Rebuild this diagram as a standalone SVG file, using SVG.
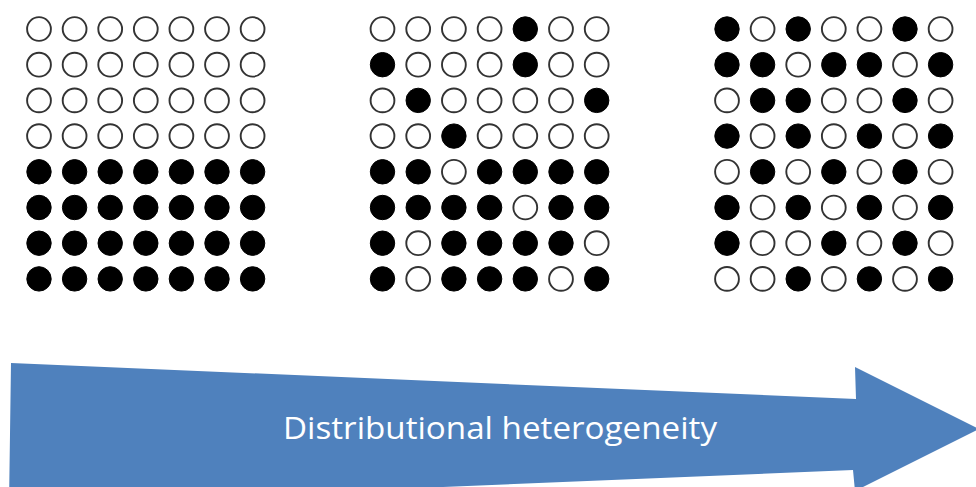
<svg xmlns="http://www.w3.org/2000/svg" xmlns:xlink="http://www.w3.org/1999/xlink" width="976" height="487" viewBox="0 0 976 487">
<style>
.e{fill:#fff;stroke:#333;stroke-width:1.9}
.f{fill:#000;stroke:#000;stroke-width:1}
.lbl{font-family:"Open Sans","Noto Sans",sans-serif;font-size:31px;fill:#fff}
</style>
<defs>
<circle id="o" r="11.9" class="e"/>
<circle id="b" r="12.2" class="f"/>
</defs>
<rect width="976" height="487" fill="#fff"/>
<g id="grid-homogeneous" transform="translate(39,29)">
<use href="#o" x="0" y="0"/><use href="#o" x="35.6" y="0"/><use href="#o" x="71.2" y="0"/><use href="#o" x="106.8" y="0"/><use href="#o" x="142.4" y="0"/><use href="#o" x="178" y="0"/><use href="#o" x="213.6" y="0"/>
<use href="#o" x="0" y="35.7"/><use href="#o" x="35.6" y="35.7"/><use href="#o" x="71.2" y="35.7"/><use href="#o" x="106.8" y="35.7"/><use href="#o" x="142.4" y="35.7"/><use href="#o" x="178" y="35.7"/><use href="#o" x="213.6" y="35.7"/>
<use href="#o" x="0" y="71.4"/><use href="#o" x="35.6" y="71.4"/><use href="#o" x="71.2" y="71.4"/><use href="#o" x="106.8" y="71.4"/><use href="#o" x="142.4" y="71.4"/><use href="#o" x="178" y="71.4"/><use href="#o" x="213.6" y="71.4"/>
<use href="#o" x="0" y="107.1"/><use href="#o" x="35.6" y="107.1"/><use href="#o" x="71.2" y="107.1"/><use href="#o" x="106.8" y="107.1"/><use href="#o" x="142.4" y="107.1"/><use href="#o" x="178" y="107.1"/><use href="#o" x="213.6" y="107.1"/>
<use href="#b" x="0" y="142.8"/><use href="#b" x="35.6" y="142.8"/><use href="#b" x="71.2" y="142.8"/><use href="#b" x="106.8" y="142.8"/><use href="#b" x="142.4" y="142.8"/><use href="#b" x="178" y="142.8"/><use href="#b" x="213.6" y="142.8"/>
<use href="#b" x="0" y="178.5"/><use href="#b" x="35.6" y="178.5"/><use href="#b" x="71.2" y="178.5"/><use href="#b" x="106.8" y="178.5"/><use href="#b" x="142.4" y="178.5"/><use href="#b" x="178" y="178.5"/><use href="#b" x="213.6" y="178.5"/>
<use href="#b" x="0" y="214.2"/><use href="#b" x="35.6" y="214.2"/><use href="#b" x="71.2" y="214.2"/><use href="#b" x="106.8" y="214.2"/><use href="#b" x="142.4" y="214.2"/><use href="#b" x="178" y="214.2"/><use href="#b" x="213.6" y="214.2"/>
<use href="#b" x="0" y="249.9"/><use href="#b" x="35.6" y="249.9"/><use href="#b" x="71.2" y="249.9"/><use href="#b" x="106.8" y="249.9"/><use href="#b" x="142.4" y="249.9"/><use href="#b" x="178" y="249.9"/><use href="#b" x="213.6" y="249.9"/>
</g>
<g id="grid-intermediate" transform="translate(382.5,29)">
<use href="#o" x="0" y="0"/><use href="#o" x="35.7" y="0"/><use href="#o" x="71.4" y="0"/><use href="#o" x="107.1" y="0"/><use href="#b" x="142.8" y="0"/><use href="#o" x="178.5" y="0"/><use href="#o" x="214.2" y="0"/>
<use href="#b" x="0" y="35.7"/><use href="#o" x="35.7" y="35.7"/><use href="#o" x="71.4" y="35.7"/><use href="#o" x="107.1" y="35.7"/><use href="#b" x="142.8" y="35.7"/><use href="#o" x="178.5" y="35.7"/><use href="#o" x="214.2" y="35.7"/>
<use href="#o" x="0" y="71.4"/><use href="#b" x="35.7" y="71.4"/><use href="#o" x="71.4" y="71.4"/><use href="#o" x="107.1" y="71.4"/><use href="#o" x="142.8" y="71.4"/><use href="#o" x="178.5" y="71.4"/><use href="#b" x="214.2" y="71.4"/>
<use href="#o" x="0" y="107.1"/><use href="#o" x="35.7" y="107.1"/><use href="#b" x="71.4" y="107.1"/><use href="#o" x="107.1" y="107.1"/><use href="#o" x="142.8" y="107.1"/><use href="#o" x="178.5" y="107.1"/><use href="#o" x="214.2" y="107.1"/>
<use href="#b" x="0" y="142.8"/><use href="#b" x="35.7" y="142.8"/><use href="#o" x="71.4" y="142.8"/><use href="#b" x="107.1" y="142.8"/><use href="#b" x="142.8" y="142.8"/><use href="#b" x="178.5" y="142.8"/><use href="#b" x="214.2" y="142.8"/>
<use href="#b" x="0" y="178.5"/><use href="#b" x="35.7" y="178.5"/><use href="#b" x="71.4" y="178.5"/><use href="#b" x="107.1" y="178.5"/><use href="#o" x="142.8" y="178.5"/><use href="#b" x="178.5" y="178.5"/><use href="#b" x="214.2" y="178.5"/>
<use href="#b" x="0" y="214.2"/><use href="#o" x="35.7" y="214.2"/><use href="#b" x="71.4" y="214.2"/><use href="#b" x="107.1" y="214.2"/><use href="#b" x="142.8" y="214.2"/><use href="#b" x="178.5" y="214.2"/><use href="#o" x="214.2" y="214.2"/>
<use href="#b" x="0" y="249.9"/><use href="#o" x="35.7" y="249.9"/><use href="#b" x="71.4" y="249.9"/><use href="#b" x="107.1" y="249.9"/><use href="#b" x="142.8" y="249.9"/><use href="#o" x="178.5" y="249.9"/><use href="#b" x="214.2" y="249.9"/>
</g>
<g id="grid-heterogeneous" transform="translate(727,29)">
<use href="#b" x="0" y="0"/><use href="#o" x="35.6" y="0"/><use href="#b" x="71.2" y="0"/><use href="#o" x="106.8" y="0"/><use href="#o" x="142.4" y="0"/><use href="#b" x="178" y="0"/><use href="#o" x="213.6" y="0"/>
<use href="#b" x="0" y="35.7"/><use href="#b" x="35.6" y="35.7"/><use href="#o" x="71.2" y="35.7"/><use href="#b" x="106.8" y="35.7"/><use href="#b" x="142.4" y="35.7"/><use href="#o" x="178" y="35.7"/><use href="#b" x="213.6" y="35.7"/>
<use href="#o" x="0" y="71.4"/><use href="#b" x="35.6" y="71.4"/><use href="#b" x="71.2" y="71.4"/><use href="#o" x="106.8" y="71.4"/><use href="#o" x="142.4" y="71.4"/><use href="#b" x="178" y="71.4"/><use href="#o" x="213.6" y="71.4"/>
<use href="#b" x="0" y="107.1"/><use href="#o" x="35.6" y="107.1"/><use href="#b" x="71.2" y="107.1"/><use href="#o" x="106.8" y="107.1"/><use href="#b" x="142.4" y="107.1"/><use href="#o" x="178" y="107.1"/><use href="#b" x="213.6" y="107.1"/>
<use href="#o" x="0" y="142.8"/><use href="#b" x="35.6" y="142.8"/><use href="#o" x="71.2" y="142.8"/><use href="#b" x="106.8" y="142.8"/><use href="#o" x="142.4" y="142.8"/><use href="#b" x="178" y="142.8"/><use href="#o" x="213.6" y="142.8"/>
<use href="#b" x="0" y="178.5"/><use href="#o" x="35.6" y="178.5"/><use href="#b" x="71.2" y="178.5"/><use href="#o" x="106.8" y="178.5"/><use href="#b" x="142.4" y="178.5"/><use href="#o" x="178" y="178.5"/><use href="#b" x="213.6" y="178.5"/>
<use href="#b" x="0" y="214.2"/><use href="#o" x="35.6" y="214.2"/><use href="#o" x="71.2" y="214.2"/><use href="#b" x="106.8" y="214.2"/><use href="#o" x="142.4" y="214.2"/><use href="#b" x="178" y="214.2"/><use href="#o" x="213.6" y="214.2"/>
<use href="#o" x="0" y="249.9"/><use href="#o" x="35.6" y="249.9"/><use href="#b" x="71.2" y="249.9"/><use href="#o" x="106.8" y="249.9"/><use href="#b" x="142.4" y="249.9"/><use href="#o" x="178" y="249.9"/><use href="#b" x="213.6" y="249.9"/>
</g>
<g id="connectors">
<polygon id="arrow" points="11,363 856,399 855,367 979,429 855,491 853,470 9,505" fill="#4F81BD"/>
</g>
<g id="label"><text class="lbl" x="500" y="439" text-anchor="middle" textLength="434" lengthAdjust="spacingAndGlyphs">Distributional heterogeneity</text></g>
</svg>
